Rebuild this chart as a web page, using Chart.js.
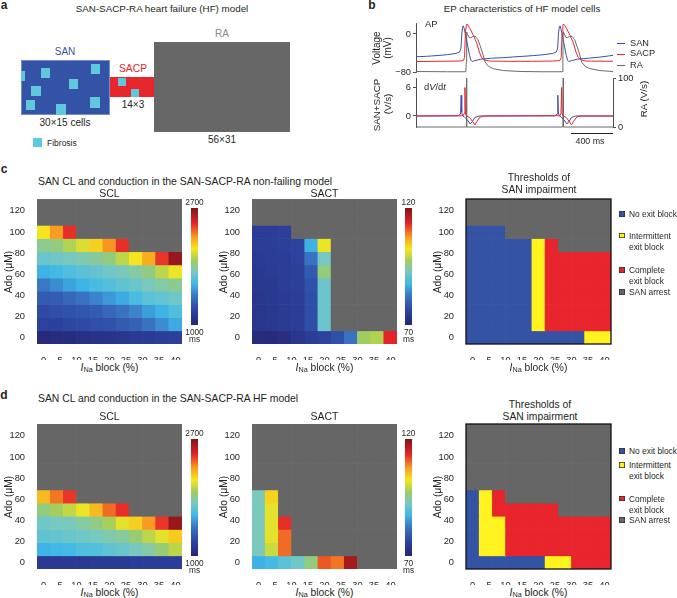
<!DOCTYPE html>
<html>
<head>
<meta charset="utf-8">
<title>SAN-SACP-RA model</title>
<script src="https://cdn.jsdelivr.net/npm/chart.js@4.4.1/dist/chart.umd.min.js"></script>
<style>
  body { margin: 0; background: #fff; }
  #page { position: relative; width: 677px; height: 598px; overflow: hidden;
          font-family: "Liberation Sans", Arial, sans-serif; color: #231f20; }
  #page canvas { position: absolute; }
  .lbl { position: absolute; white-space: nowrap; line-height: 1; transform: translate(-50%, -50%); }
  .lft { transform: translate(0, -50%); }
  .rot { transform: translate(-50%, -50%) rotate(-90deg); }
  .box { position: absolute; }
  sub { font-size: 0.7em; vertical-align: -0.25em; }
</style>
</head>
<body>
<div id="page"></div>
<script>
// ---- grid axes (shared by all heat maps) ----
const blockLevels = [0, 4, 8, 12, 16, 20, 24, 28, 32, 36, 40];          // INa block (%)
const adoLevels = [0, 12.5, 25, 37.5, 50, 62.5, 75, 87.5, 100, 112.5, 125]; // Ado (uM)
const xTickLabels = [0, 5, 10, 15, 20, 25, 30, 35, 40];
const yTickLabels = [0, 20, 40, 60, 80, 100, 120];

// ---- c: non-failing model, rows from Ado = 0 upward, missing = SAN arrest ----
const sclNonFailing = [
  [1030, 1050, 1050, 1070, 1090, 1100, 1120, 1140, 1150, 1170, 1190],
  [1200, 1200, 1220, 1240, 1260, 1270, 1310, 1340, 1410, 1480, 1560],
  [1240, 1260, 1270, 1290, 1320, 1360, 1410, 1460, 1530, 1580, 1650],
  [1310, 1320, 1360, 1410, 1460, 1510, 1560, 1630, 1680, 1710, 1750],
  [1430, 1480, 1540, 1580, 1630, 1660, 1700, 1730, 1780, 1820, 1850],
  [1580, 1610, 1650, 1680, 1710, 1750, 1780, 1820, 1880, 1990, 2090],
  [1730, 1750, 1770, 1800, 1830, 1880, 1990, 2110, 2240, 2450, 2650],
  [1850, 1880, 1970, 2050, 2160, 2290, 2460],
  [2110, 2280, 2460]
];
const sactNonFailing = [
  [71, 71, 72, 73.5, 75, 76, 77.5, 82, 97.5, 98.5, 113.5],
  [73.5, 74, 74.5, 75, 77.5, 91.5],
  [73.5, 74, 74.5, 75, 77.5, 91.5],
  [73.5, 74, 74.5, 75, 77.5, 91.5],
  [74, 74, 75, 75.5, 78, 91.5],
  [74, 74.5, 75, 75.5, 79, 96],
  [74.5, 75, 75, 76, 82, 92.5],
  [75, 75, 75.5, 76, 87, 102],
  [75, 75, 75.5]
];
// B = no exit block, Y = intermittent, R = complete, G = SAN arrest
const thresholdNonFailing = [
  "BBBBBBBBBYY", "BBBBBYRRRRR", "BBBBBYRRRRR", "BBBBBYRRRRR", "BBBBBYRRRRR",
  "BBBBBYRRRRR", "BBBBBYRRRRR", "BBBBBYRGGGG", "BBBGGGGGGGG", "GGGGGGGGGGG", "GGGGGGGGGGG"
];

// ---- d: HF model ----
const sclHF = [
  [1140, 1140, 1140, 1140, 1150, 1150, 1150, 1170, 1170, 1170, 1170],
  [1580, 1600, 1610, 1650, 1660, 1700, 1730, 1770, 1820, 1900, 1990],
  [1700, 1710, 1730, 1750, 1770, 1800, 1830, 1900, 1990, 2070, 2170],
  [1750, 1770, 1780, 1820, 1870, 1950, 2070, 2160, 2280, 2450, 2650],
  [1880, 1940, 2000, 2090, 2210, 2360, 2460],
  [2210, 2340, 2450]
];
const sactHF = [
  [87, 88, 90, 92, 96, 111, 109.5, 117.5],
  [93, 100, 110],
  [93, 101.5, 110],
  [93, 101.5, 113],
  [93, 101.5],
  [93, 104]
];
const thresholdHF = [
  "BBBBBBYYRRR", "BYYRRRRRRRR", "BYYRRRRRRRR", "BYYRRRRRRRR", "BYRRRRRGGGG",
  "BYRGGGGGGGG", "GGGGGGGGGGG", "GGGGGGGGGGG", "GGGGGGGGGGG", "GGGGGGGGGGG", "GGGGGGGGGGG"
];
const sclRange = [1000, 2700];
const sactRange = [70, 120];

// ---- b: AP and dV/dt traces, [time ms, value] ----
const sanAP = [[0,-48],[100,-47],[200,-45.5],[300,-43.5],[380,-41],[415,-38],[428,-30],[436,0],[443,14],[450,17],[458,12],[468,2],[480,-12],[495,-28],[510,-45],[522,-55],[535,-58],[560,-56],[620,-53],[720,-51],[820,-50],[920,-48.5],[1020,-47],[1120,-45.5],[1220,-43.5],[1300,-41],[1335,-38],[1348,-30],[1356,0],[1363,14],[1370,17],[1378,12],[1388,2],[1400,-12],[1415,-28],[1430,-45],[1442,-55],[1455,-58],[1480,-56],[1540,-53],[1640,-51],[1740,-49],[1875,-45]];
const sacpAP = [[0,-58],[200,-57.5],[400,-57],[450,-56],[462,-50],[470,0],[478,18],[483,21],[495,18],[514,11],[546,-3],[578,-19],[603,-38],[625,-50],[657,-55],[700,-57],[900,-57.5],[1100,-57.5],[1300,-57],[1370,-56],[1382,-50],[1390,0],[1398,18],[1403,21],[1415,18],[1434,11],[1466,-3],[1498,-19],[1523,-38],[1545,-50],[1577,-55],[1620,-57],[1875,-57.5]];
const raAP = [[0,-79],[300,-79.5],[474,-79.5],[478,-60],[481,0],[484,4],[490,0],[505,-7],[520,-8],[545,-5],[565,-5],[590,-12],[625,-34],[657,-59],[689,-68],[736,-73],[831,-77],[1000,-79],[1200,-79.5],[1394,-79.5],[1398,-60],[1401,0],[1404,4],[1410,0],[1425,-7],[1440,-8],[1465,-5],[1485,-5],[1510,-12],[1545,-34],[1577,-59],[1609,-68],[1656,-73],[1751,-77],[1875,-79]];
const sanDV = [[0,0],[400,0.05],[424,0.4],[430,4.3],[435,0.8],[442,0.1],[460,-0.2],[490,-0.8],[515,-1.65],[535,-1.2],[560,-0.3],[600,0],[1320,0.05],[1344,0.4],[1350,4.3],[1355,0.8],[1362,0.1],[1380,-0.2],[1410,-0.8],[1435,-1.65],[1455,-1.2],[1480,-0.3],[1520,0],[1875,0]];
const sacpDV = [[0,0],[450,0.05],[460,0.6],[466,5.9],[471,0.4],[480,0],[510,-0.3],[540,-1.2],[560,-1.85],[580,-1.1],[610,-0.2],[650,0],[1370,0.05],[1380,0.6],[1386,5.9],[1391,0.4],[1400,0],[1430,-0.3],[1460,-1.2],[1480,-1.85],[1500,-1.1],[1530,-0.2],[1570,0],[1875,0]];
const raDV = [[0,0],[478,0],[481,100],[484,0],[1398,0],[1401,100],[1404,0],[1875,0]];
const traceEnd = 1875;
const scaleBarMs = 400;

// ---- styling ----
Chart.defaults.font.family = '"Liberation Sans", Arial, sans-serif';
Chart.defaults.color = '#231f20';
const INK = '#231f20';
const SAN_BLUE = '#3a50a2';
const SACP_RED = '#e8262d';
const RA_GREY = '#6b6b6b';
const ARREST_GREY = '#666666';
const thresholdColours = { B: '#3553a5', Y: '#fff21e', R: '#e8242c', G: ARREST_GREY };
const jetStops = [
  [0.00, [38, 38, 115]], [0.12, [44, 66, 158]], [0.25, [58, 118, 196]],
  [0.35, [62, 185, 232]], [0.45, [118, 200, 196]], [0.55, [160, 205, 95]],
  [0.65, [246, 230, 32]], [0.75, [248, 158, 32]], [0.87, [228, 36, 40]], [1.00, [128, 20, 22]]
];
function jet(t) {
  t = Math.max(0, Math.min(1, t));
  for (let i = 1; i < jetStops.length; i++) {
    const [t1, c1] = jetStops[i];
    const [t0, c0] = jetStops[i - 1];
    if (t <= t1) {
      const f = (t - t0) / (t1 - t0);
      return 'rgb(' + c0.map((c, k) => Math.round(c + (c1[k] - c) * f)).join(',') + ')';
    }
  }
}
const jetCss = 'linear-gradient(to top,' + jetStops.map(([t, c]) => 'rgb(' + c.join(',') + ') ' + (t * 100) + '%').join(',') + ')';

// ---- page helpers ----
const page = document.getElementById('page');
function text(str, x, y, size, opt = {}) {
  const d = document.createElement('div');
  d.className = 'lbl' + (opt.left ? ' lft' : '') + (opt.rot ? ' rot' : '');
  d.style.left = x + 'px';
  d.style.top = y + 'px';
  d.style.fontSize = size + 'px';
  if (opt.bold) d.style.fontWeight = 'bold';
  if (opt.color) d.style.color = opt.color;
  d.innerHTML = str;
  page.appendChild(d);
}
function box(x, y, w, h, css) {
  const d = document.createElement('div');
  d.className = 'box';
  Object.assign(d.style, { left: x + 'px', top: y + 'px', width: w + 'px', height: h + 'px' }, css);
  page.appendChild(d);
}
function canvas(x, y, w, h) {
  const c = document.createElement('canvas');
  c.width = w;
  c.height = h;
  c.style.left = x + 'px';
  c.style.top = y + 'px';
  page.appendChild(c);
  return c;
}
const pts = arr => arr.map(([x, y]) => ({ x, y }));

// ---- panel a: schematic ----
text('a', 4, 5, 12, { bold: true });
text('SAN-SACP-RA heart failure (HF) model', 162, 9, 9.8);
box(21, 60, 89, 55, { background: '#3452a6', boxShadow: 'inset 0 0 0 1px #6f8fd2' });
box(110, 77, 44, 20, { background: SACP_RED });
box(154, 42, 136, 90, { background: '#676767' });
const FIB = '#5fc8dc';
[[21, 71, 4, 10], [41, 68, 9, 9.5], [91, 64, 8.5, 10], [68.5, 78.5, 9, 10], [31, 86, 9.5, 10],
 [26, 99.5, 8.5, 10.5], [90, 97, 9.5, 10.5], [56, 104, 9.5, 11], [117.5, 77.5, 8, 8.5], [131, 89, 8, 8]]
  .forEach(([x, y, w, h]) => box(x, y, w, h, { background: FIB }));
text('SAN', 65, 52, 10, { color: '#3a55a5' });
text('SACP', 133, 69, 10.3, { color: SACP_RED });
text('14×3', 133, 105, 10);
text('RA', 222, 34, 10, { color: '#8a8a8a' });
text('30×15 cells', 65, 123, 10);
text('56×31', 222, 140, 10);
box(33, 138, 9, 9, { background: FIB });
text('Fibrosis', 47, 142.5, 8.5, { left: true });

// ---- panel b: EP traces ----
text('b', 372, 5, 12, { bold: true });
text('EP characteristics of HF model cells', 522, 8.5, 9.8);
const tickAxis = (min, max, ticks, width, extra) => Object.assign({
  min, max,
  afterBuildTicks: ax => { ax.ticks = ticks.map(v => ({ value: v })); },
  afterFit: ax => { ax.width = width; },
  border: { display: true, color: INK, width: 0.8 },
  grid: { display: true, drawOnChartArea: false, drawTicks: true, tickLength: 3, color: INK, lineWidth: 0.8 },
  ticks: { font: { size: 9.3 }, padding: 2, callback: v => (v < 0 ? '\u2212' + Math.abs(v) : v) }
}, extra);

new Chart(canvas(380, 13, 36 + 197 + 6, 10 + 49 + 10), {
  type: 'line',
  data: { datasets: [
    { data: pts(sacpAP), borderColor: SACP_RED, order: 1 },
    { data: pts(sanAP), borderColor: SAN_BLUE, order: 2 },
    { data: pts(raAP), borderColor: RA_GREY, order: 3 }
  ] },
  options: {
    responsive: false, animation: false,
    layout: { padding: { top: 10, right: 6, bottom: 10 } },
    elements: { line: { borderWidth: 1, tension: 0 }, point: { radius: 0 } },
    datasets: { line: { clip: 3 } },
    plugins: { legend: { display: false }, tooltip: { enabled: false } },
    scales: {
      x: { type: 'linear', min: 0, max: traceEnd, display: false },
      y: tickAxis(-80, 23, [0, -80], 36)
    }
  }
});

const scaleBar = {
  id: 'scaleBar',
  afterDraw(chart) {
    const { ctx, chartArea } = chart;
    const x = chart.scales.x;
    const x0 = x.getPixelForValue(traceEnd - scaleBarMs), x1 = x.getPixelForValue(traceEnd);
    const y = chartArea.bottom + 6.5;
    ctx.save();
    ctx.strokeStyle = INK;
    ctx.lineWidth = 1;
    ctx.beginPath(); ctx.moveTo(x0, y); ctx.lineTo(x1, y); ctx.stroke();
    ctx.fillStyle = INK;
    ctx.font = '8.8px "Liberation Sans", Arial, sans-serif';
    ctx.textAlign = 'center';
    ctx.textBaseline = 'middle';
    ctx.fillText(scaleBarMs + ' ms', (x0 + x1) / 2 - 2, y + 8);
    ctx.restore();
  }
};
new Chart(canvas(380, 68, 36 + 197 + 30, 10 + 49 + 26), {
  type: 'line',
  data: { datasets: [
    { data: pts(sacpDV), borderColor: SACP_RED, order: 1 },
    { data: pts(sanDV), borderColor: SAN_BLUE, order: 2 },
    { data: pts(raDV), borderColor: RA_GREY, yAxisID: 'yR', order: 3, clip: { left: 0, top: 0, right: 0, bottom: 2 } }
  ] },
  options: {
    responsive: false, animation: false,
    layout: { padding: { top: 10, bottom: 26 } },
    elements: { line: { borderWidth: 1, tension: 0 }, point: { radius: 0 } },
    plugins: { legend: { display: false }, tooltip: { enabled: false } },
    scales: {
      x: { type: 'linear', min: 0, max: traceEnd, display: false },
      y: tickAxis(-2.28, 7.87, [0, 6], 36),
      yR: tickAxis(0, 100, [0, 100], 30, { position: 'right' })
    }
  },
  plugins: [scaleBar]
});
text('AP', 425, 25, 9.3, { left: true });
text('d<i>V</i>/d<i>t</i>', 424, 88, 9.3, { left: true });
text('Voltage', 376.5, 48, 10, { rot: true });
text('(mV)', 387.5, 48, 10, { rot: true });
text('SAN+SACP', 376.5, 105, 9.8, { rot: true });
text('(V/s)', 387.5, 104, 9.8, { rot: true });
text('RA (V/s)', 644, 99, 9.8, { rot: true });
[['SAN', SAN_BLUE, 43.5], ['SACP', SACP_RED, 54], ['RA', RA_GREY, 65.5]].forEach(([name, col, y]) => {
  box(617, y - 0.5, 8, 1.2, { background: col });
  text(name, 630, y, 9.2, { left: true });
});

// ---- heat maps ----
const PLOT = 145;
const frame = {
  id: 'frame',
  afterDraw(chart) {
    const { ctx, chartArea: a } = chart;
    ctx.save();
    ctx.strokeStyle = '#111';
    ctx.lineWidth = 1.3;
    ctx.strokeRect(a.left, a.top, a.width, a.height);
    ctx.restore();
  }
};
function gridChart(left, top, rows, colourOf, framed) {
  const yW = 30, xH = 16, padT = 10, padR = 6;
  const bStep = blockLevels[1] - blockLevels[0];
  const aStep = adoLevels[1] - adoLevels[0];
  const cells = [];
  adoLevels.forEach((ado, r) => blockLevels.forEach((blk, c) => {
    const v = (rows[r] || [])[c];
    cells.push({ x: blk, y: [ado - aStep / 2, ado + aStep / 2], v: v === undefined ? null : v });
  }));
  const tickFont = { size: 9.3 };
  return new Chart(canvas(left - yW, top - padT, yW + PLOT + padR, padT + PLOT + xH), {
    type: 'bar',
    data: { datasets: [{
      data: cells,
      backgroundColor: ctx => colourOf(ctx.raw ? ctx.raw.v : null),
      borderWidth: 0, barPercentage: 1, categoryPercentage: 1
    }] },
    options: {
      responsive: false, animation: false,
      layout: { padding: { top: padT, right: padR } },
      plugins: { legend: { display: false }, tooltip: { enabled: false } },
      scales: {
        x: {
          type: 'linear', offset: false,
          min: blockLevels[0] - bStep / 2, max: blockLevels[blockLevels.length - 1] + bStep / 2,
          grid: { display: false }, border: { display: false },
          ticks: { font: tickFont, padding: 3, maxRotation: 0, autoSkip: false },
          afterBuildTicks: ax => { ax.ticks = xTickLabels.map(v => ({ value: v })); },
          afterFit: ax => { ax.height = xH; }
        },
        y: {
          type: 'linear',
          min: adoLevels[0] - aStep / 2, max: adoLevels[adoLevels.length - 1] + aStep / 2,
          grid: { display: false }, border: { display: false },
          ticks: { font: tickFont, padding: 4, autoSkip: false },
          afterBuildTicks: ax => { ax.ticks = yTickLabels.map(v => ({ value: v })); },
          afterFit: ax => { ax.width = yW; }
        }
      }
    },
    plugins: framed ? [frame] : []
  });
}
const valueColour = ([lo, hi]) => v => (v === null ? ARREST_GREY : jet((v - lo) / (hi - lo)));
const codeColour = v => thresholdColours[v] || ARREST_GREY;

function colourBar(x, top, range) {
  box(x, top, 7, 117, { background: jetCss });
  text(String(range[1]), x + 3.5, top - 6.5, 8.3);
  text(String(range[0]), x + 3.5, top + 123.5, 8.3);
  text('ms', x + 3.5, top + 131, 8.3);
}
function thresholdLegend(x, items) {
  items.forEach(([code, lines, y]) => {
    box(x, y - 3, 5.5, 5.5, { background: thresholdColours[code], boxShadow: 'inset 0 0 0 0.8px #333' });
    lines.forEach((ln, i) => text(ln, x + 10, y + i * 11, 8.4, { left: true }));
  });
}
function row(top, sclRows, sactRows, thrRows, titleY, legendYs, barTop) {
  const lefts = [37, 252, 466];
  gridChart(lefts[0], top, sclRows, valueColour(sclRange), false);
  gridChart(lefts[1], top, sactRows, valueColour(sactRange), false);
  gridChart(lefts[2], top, thrRows, codeColour, true);
  lefts.forEach(l => {
    text('Ado (μM)', l - 28, top + PLOT / 2, 10.3, { rot: true });
    text('<i>I</i><sub>Na</sub> block (%)', l + PLOT / 2, top + PLOT + 23.5, 10.3);
  });
  text('SCL', lefts[0] + PLOT / 2, titleY, 10.5);
  text('SACT', lefts[1] + PLOT / 2, titleY, 10.5);
  colourBar(191, barTop, sclRange);
  colourBar(405, barTop, sactRange);
  thresholdLegend(619, [
    ['B', ['No exit block'], legendYs[0]],
    ['Y', ['Intermittent', 'exit block'], legendYs[1]],
    ['R', ['Complete', 'exit block'], legendYs[2]],
    ['G', ['SAN arrest'], legendYs[3]]
  ]);
}

text('c', 4, 169, 12, { bold: true });
text('SAN CL and conduction in the SAN-SACP-RA non-failing model', 38, 181.5, 10.4, { left: true });
text('Thresholds of', 539, 177.5, 10.3);
text('SAN impairment', 539, 190, 10.3);
row(199, sclNonFailing, sactNonFailing, thresholdNonFailing, 192.5, [214, 235.5, 270, 292], 208);

text('d', 4, 395, 12, { bold: true });
text('SAN CL and conduction in the SAN-SACP-RA HF model', 38, 398.5, 10.4, { left: true });
text('Thresholds of', 540, 405, 10.3);
text('SAN impairment', 540, 417, 10.3);
row(424, sclHF, sactHF, thresholdHF, 416, [451, 465, 498.5, 520], 439);
</script>
</body>
</html>
